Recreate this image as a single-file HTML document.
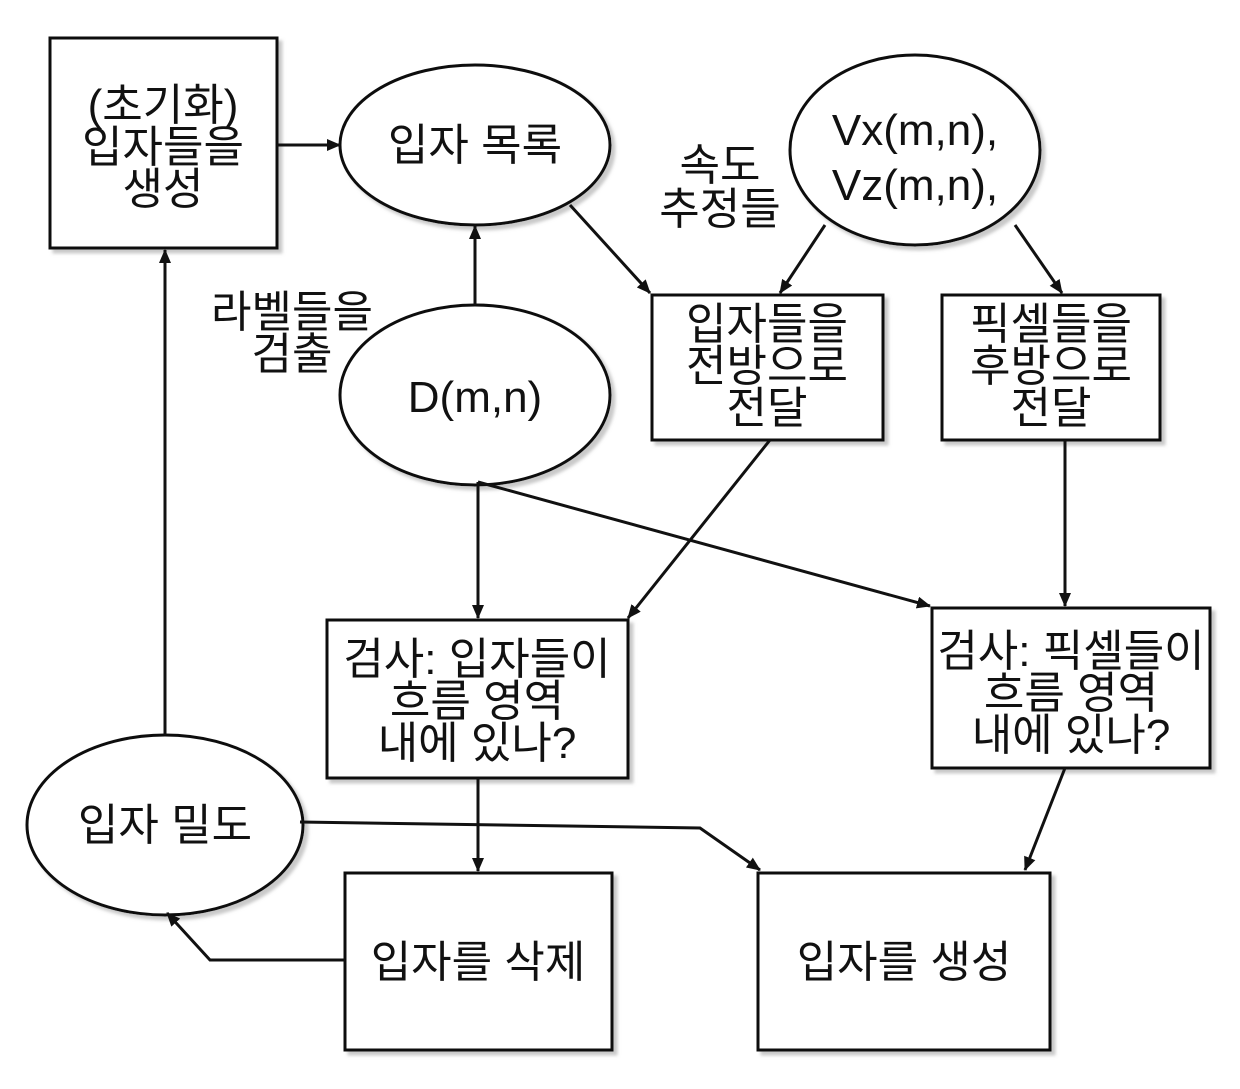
<!DOCTYPE html>
<html><head><meta charset="utf-8"><style>
html,body{margin:0;padding:0;background:#fff}
svg text{font-family:"Liberation Sans","Noto Sans CJK KR","NanumGothic",sans-serif;font-size:44px;fill:#111;text-anchor:middle}
</style></head><body>
<svg width="1240" height="1084" viewBox="0 0 1240 1084" xmlns="http://www.w3.org/2000/svg">
<defs>
<marker id="a" markerWidth="14" markerHeight="12" refX="13" refY="6" orient="auto" markerUnits="userSpaceOnUse" viewBox="0 0 14 12">
<path d="M0,0 L14,6 L0,12 z" fill="#111"/></marker>
<filter id="s"><feOffset dx="4" dy="4"/><feGaussianBlur stdDeviation="1.5"/><feColorMatrix type="matrix" values="0 0 0 0 0.5 0 0 0 0 0.5 0 0 0 0 0.5 0 0 0 0.8 0"/><feMerge><feMergeNode/><feMergeNode in="SourceGraphic"/></feMerge></filter>
</defs>
<g fill="#fff" stroke="#111" stroke-width="3" filter="url(#s)">
<rect x="50" y="38" width="227" height="210"/>
<ellipse cx="475" cy="145" rx="135" ry="80"/>
<ellipse cx="915" cy="150" rx="125" ry="95"/>
<ellipse cx="475" cy="395" rx="135" ry="90"/>
<rect x="652" y="295" width="231" height="145"/>
<rect x="942" y="295" width="218" height="145"/>
<rect x="327" y="620" width="301" height="158"/>
<rect x="932" y="608" width="278" height="160"/>
<ellipse cx="165" cy="825" rx="138" ry="90"/>
<rect x="345" y="873" width="267" height="177"/>
<rect x="758" y="873" width="292" height="177"/>
</g>
<g stroke="#111" stroke-width="3" fill="none" marker-end="url(#a)">
<line x1="277" y1="145" x2="340" y2="145"/>
<line x1="475" y1="305" x2="475" y2="226"/>
<line x1="570" y1="205" x2="650" y2="293"/>
<line x1="825" y1="225" x2="780" y2="293"/>
<line x1="1015" y1="225" x2="1062" y2="293"/>
<line x1="770" y1="440" x2="628" y2="618"/>
<line x1="478" y1="482" x2="478" y2="618"/>
<line x1="478" y1="482" x2="930" y2="606"/>
<line x1="1065" y1="440" x2="1065" y2="606"/>
<line x1="478" y1="778" x2="478" y2="871"/>
<line x1="1065" y1="768" x2="1025" y2="870"/>
<polyline points="300,822 700,828 760,870"/>
<polyline points="345,960 210,960 167,913"/>
<line x1="165" y1="735" x2="165" y2="250"/>
</g>
<text x="163" y="120">(초기화)</text>
<text x="163" y="162">입자들을</text>
<text x="163" y="204">생성</text>
<text x="475" y="160">입자 목록</text>
<text x="915" y="145">Vx(m,n),</text>
<text x="915" y="200">Vz(m,n),</text>
<text x="720" y="180">속도</text>
<text x="720" y="224">추정들</text>
<text x="292" y="327">라벨들을</text>
<text x="292" y="369">검출</text>
<text x="475" y="412">D(m,n)</text>
<text x="767" y="339">입자들을</text>
<text x="767" y="381">전방으로</text>
<text x="767" y="423">전달</text>
<text x="1051" y="339">픽셀들을</text>
<text x="1051" y="381">후방으로</text>
<text x="1051" y="423">전달</text>
<text x="477" y="674">검사: 입자들이</text>
<text x="477" y="716">흐름 영역</text>
<text x="477" y="758">내에 있나?</text>
<text x="1071" y="666">검사: 픽셀들이</text>
<text x="1071" y="708">흐름 영역</text>
<text x="1071" y="750">내에 있나?</text>
<text x="165" y="840">입자 밀도</text>
<text x="478" y="977">입자를 삭제</text>
<text x="904" y="977">입자를 생성</text>
</svg>
</body></html>
